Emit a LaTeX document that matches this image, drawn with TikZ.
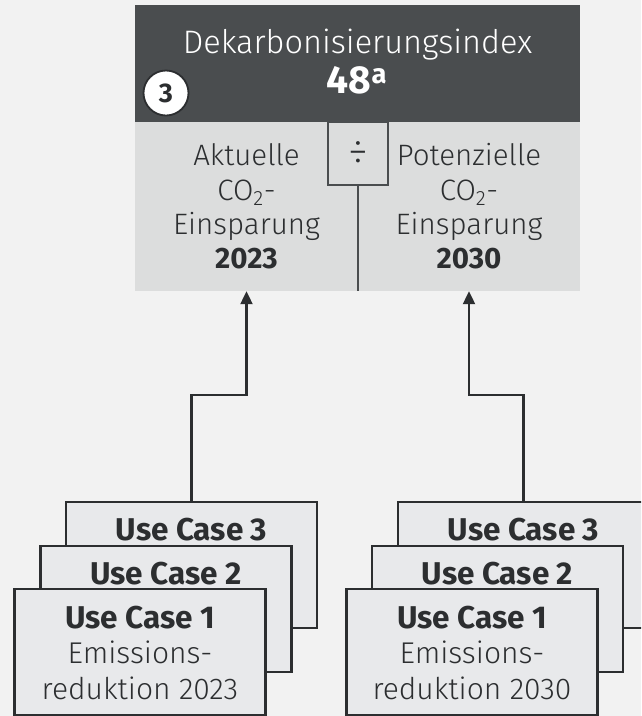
\documentclass[tikz,border=0pt]{standalone}
\usepackage{fontspec}
\setmainfont{Fira Sans Light}[BoldFont={Fira Sans Bold}]
\usetikzlibrary{positioning, arrows.meta}
\definecolor{bggray}{HTML}{F2F2F2}
\definecolor{headgray}{HTML}{4A4D4F}
\definecolor{panelgray}{HTML}{DCDDDD}
\definecolor{boxgray}{HTML}{E8E9EB}
\definecolor{inkgray}{HTML}{2C2E30}
\newcommand{\uchead}[1]{{\fontsize{31.5}{35.5}\selectfont\bfseries #1}}

\begin{document}
\begin{tikzpicture}[x=1pt, y=-1pt, node distance=1pt, on grid,
    header/.style={rectangle, fill=headgray, minimum width=445pt, minimum height=117pt, inner sep=0pt},
    panel/.style={rectangle, fill=panelgray, minimum height=169pt, inner sep=0pt, align=center,
      text=inkgray, font=\fontsize{29.5}{34.3}\selectfont},
    divbox/.style={rectangle, draw=headgray, line width=1.8pt, fill=panelgray,
      minimum width=60pt, minimum height=63pt, inner sep=0pt},
    numcirc/.style={circle, draw=inkgray, line width=1.8pt, fill=white, minimum size=45pt,
      inner sep=0pt, font=\fontsize{27}{27}\selectfont\bfseries, text=inkgray},
    ucbox/.style={rectangle, draw=inkgray, line width=2.2pt, fill=boxgray,
      minimum width=251pt, minimum height=126pt, inner sep=0pt},
    uctext/.style={anchor=north, inner sep=0pt, align=center, text=inkgray,
      font=\fontsize{30}{35.5}\selectfont},
    flow/.style={draw=inkgray, line width=2.2pt, -{Triangle[width=12pt,length=13pt]}}]
   % Hintergrund
   \fill[bggray] (0,0) rectangle (641,716);
   \useasboundingbox (0,0) rectangle (641,716);
   \clip (0,0) rectangle (641,716);

   % Index oben
   \node[header] (index) at (357.5,63.5) {};
   \node[text=white, font=\fontsize{32.5}{32.5}\selectfont, anchor=base] (title) at (357.5,53) {Dekarbonisierungsindex};
   \node[text=white, font=\fontsize{39}{39}\selectfont\bfseries, anchor=base] (value) at (357,93) {48\textsuperscript{a}};
   \node[numcirc] (num) at (166,93) {3};

   \node[panel, minimum width=223pt] (current) at (246.5,206.5)
     {Aktuelle\\CO\textsubscript{2}-\\Einsparung\\\textbf{2023}};
   \node[panel, minimum width=222pt] (potential) at (469,206.5)
     {Potenzielle\\CO\textsubscript{2}-\\Einsparung\\\textbf{2030}};
   \node[divbox, font=\fontsize{40}{40}\selectfont, text=inkgray] (div) at (358,153.5) {÷};
   \draw[headgray, line width=1.8pt] (div.south) -- (div.south |- current.south);

   % Use Cases links
   \node[ucbox] (uc3l) at (191.5,565) {};
   \node[ucbox] (uc2l) [below left=44pt and 25.5pt of uc3l] {};
   \node[ucbox] (uc1l) [below left=43pt and 26pt of uc2l] {};
   \node[uctext] (t3l) at ([yshift=-17pt]uc3l.north) {\uchead{Use Case 3}};
   \node[uctext] (t2l) at ([yshift=-17pt]uc2l.north) {\uchead{Use Case 2}};
   \node[uctext] (t1l) at ([yshift=-18pt]uc1l.north) {\uchead{Use Case 1}\\Emissions-\\reduktion 2023};

   % Use Cases rechts
   \node[ucbox] (uc3r) at (523.5,565) {};
   \node[ucbox] (uc2r) [below left=44pt and 26pt of uc3r] {};
   \node[ucbox] (uc1r) [below left=43pt and 25.5pt of uc2r] {};
   \node[uctext] (t3r) at ([yshift=-17pt]uc3r.north) {\uchead{Use Case 3}};
   \node[uctext] (t2r) at ([yshift=-17pt]uc2r.north) {\uchead{Use Case 2}};
   \node[uctext] (t1r) at ([yshift=-18pt]uc1r.north) {\uchead{Use Case 1}\\Emissions-\\reduktion 2030};

   % Pfeile nach oben
   \draw[flow] (uc3l.north) -- ++(0,-106) -| (current.south);
   \draw[flow] (uc3r.north) -- ++(0,-106) -| (potential.south);
\end{tikzpicture}
\end{document}
